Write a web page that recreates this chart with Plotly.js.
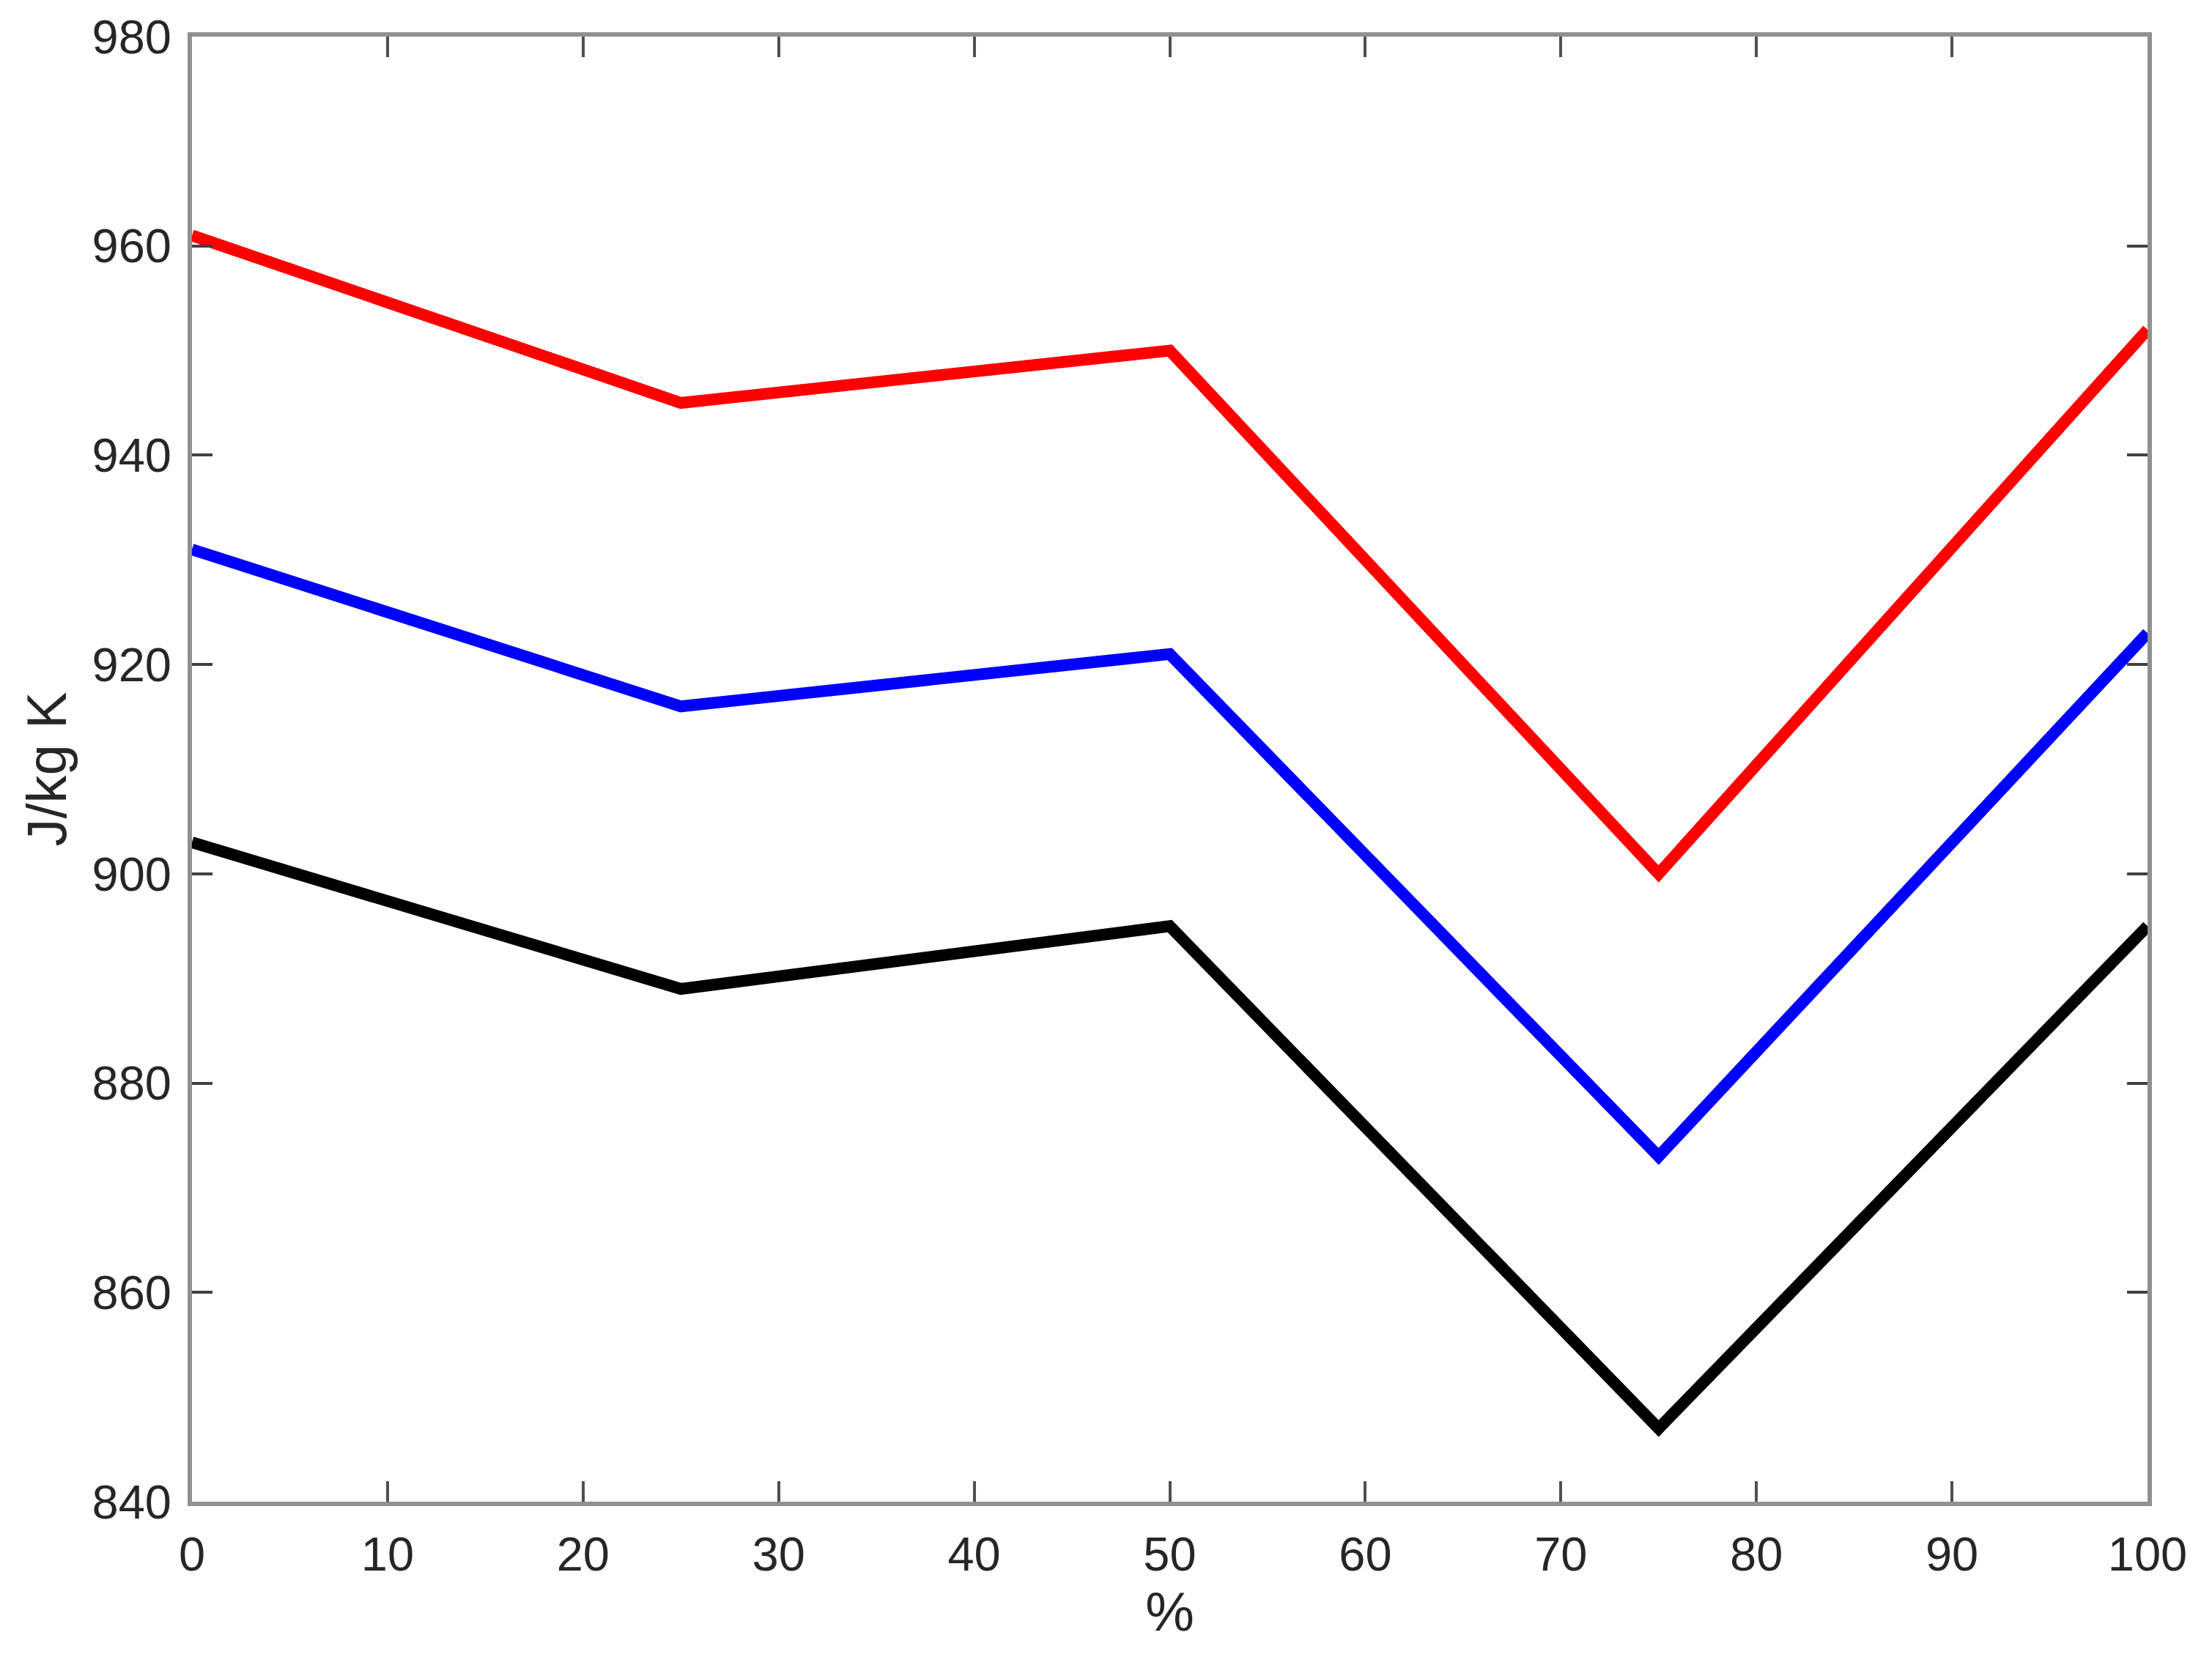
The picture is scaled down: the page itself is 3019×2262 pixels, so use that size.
<!DOCTYPE html>
<html>
<head>
<meta charset="utf-8">
<script src="https://cdn.plot.ly/plotly-3.0.1.min.js"></script>
<style>
  html, body { margin: 0; padding: 0; background: #ffffff; }
  #chart { width: 3019px; height: 2262px; }
</style>
</head>
<body>
<div id="chart"></div>
<script>
// Data
const xValues = [0, 25, 50, 75, 100];
const redSeries = [961, 945, 950, 900, 952];
const blueSeries = [931, 916, 921, 873, 923];
const blackSeries = [903, 889, 895, 847, 895];

const xTickVals = [0, 10, 20, 30, 40, 50, 60, 70, 80, 90, 100];
const yTickVals = [840, 860, 880, 900, 920, 940, 960, 980];

const xTitle = '%';
const yTitle = 'J/kg K';

const font = 'Liberation Sans, Arial, Helvetica, sans-serif';
const lineW = 16;

const traces = [
  { x: xValues, y: redSeries, mode: 'lines', line: { color: '#ff0000', width: lineW }, name: 'red', showlegend: false },
  { x: xValues, y: blueSeries, mode: 'lines', line: { color: '#0000ff', width: lineW }, name: 'blue', showlegend: false },
  { x: xValues, y: blackSeries, mode: 'lines', line: { color: '#000000', width: lineW }, name: 'black', showlegend: false }
];

const layout = {
  width: 3019,
  height: 2262,
  paper_bgcolor: '#ffffff',
  plot_bgcolor: '#ffffff',
  margin: { l: 262, r: 88, t: 50, b: 212, pad: 0 },
  showlegend: false,
  font: { family: font, color: '#262626', size: 65 },
  xaxis: {
    range: [0, 100],
    tickvals: xTickVals,
    ticktext: xTickVals.map(String),
    showgrid: false,
    zeroline: false,
    showline: true,
    mirror: 'ticks',
    linecolor: '#909090',
    linewidth: 6,
    ticks: 'inside',
    ticklen: 28,
    tickwidth: 4,
    tickcolor: '#505050',
    tickfont: { family: font, size: 65, color: '#262626' },
    ticklabelstandoff: 10,
    title: { text: xTitle, font: { family: font, size: 75, color: '#262626' }, standoff: 18 },
    automargin: false
  },
  yaxis: {
    range: [840, 980],
    tickvals: yTickVals,
    ticktext: yTickVals.map(String),
    showgrid: false,
    zeroline: false,
    showline: true,
    mirror: 'ticks',
    linecolor: '#909090',
    linewidth: 6,
    ticks: 'inside',
    ticklen: 28,
    tickwidth: 4,
    tickcolor: '#404040',
    tickfont: { family: font, size: 65, color: '#262626' },
    ticklabelstandoff: 9,
    title: { text: yTitle, font: { family: font, size: 76, color: '#262626' }, standoff: 12 },
    automargin: false
  }
};

Plotly.newPlot('chart', traces, layout, { displayModeBar: false, staticPlot: true });
</script>
</body>
</html>
